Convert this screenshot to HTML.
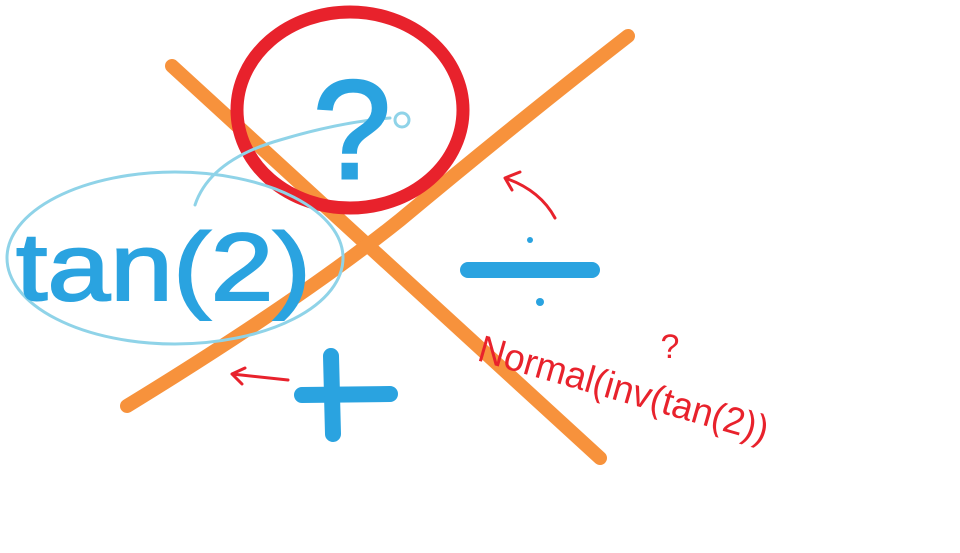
<!DOCTYPE html>
<html><head><meta charset="utf-8"><style>
html,body{margin:0;padding:0;background:#fff;width:960px;height:553px;overflow:hidden}
svg{display:block}
</style></head><body>
<svg width="960" height="553" viewBox="0 0 960 553">
  <g fill="none" stroke-linecap="round" stroke-linejoin="round">
    <path d="M172 66 L600 458" stroke="#f7923c" stroke-width="14"/>
    <path d="M127 406 Q300 300 400 220 Q520 120 628 36" stroke="#f7923c" stroke-width="14"/>
    <ellipse cx="350" cy="110" rx="113" ry="98" stroke="#e8222c" stroke-width="13"/>
    <ellipse cx="175" cy="258" rx="168" ry="86" stroke="#8fd3e8" stroke-width="3"/>
    <path d="M195 205 Q210 160 280 140 Q340 122 390 118" stroke="#8fd3e8" stroke-width="3"/>
    <circle cx="402" cy="120" r="7" stroke="#8fd3e8" stroke-width="3"/>
    <path d="M468 270 L592 270" stroke="#2aa3e0" stroke-width="16"/>
    <circle cx="530" cy="240" r="3" fill="#2aa3e0" stroke="none"/>
    <circle cx="540" cy="302" r="4" fill="#2aa3e0" stroke="none"/>
    <path d="M302 395 L390 394" stroke="#2aa3e0" stroke-width="16"/>
    <path d="M331 356 L333 434" stroke="#2aa3e0" stroke-width="16"/>
    <path d="M555 218 Q540 190 505 178 M505 178 L520 172 M505 178 L512 190" stroke="#e8222c" stroke-width="3"/>
    <path d="M288 380 L232 374 M232 374 L245 368 M232 374 L242 384" stroke="#e8222c" stroke-width="3"/>
  </g>
  <text x="352" y="178" text-anchor="middle" font-family="Liberation Sans, sans-serif" font-size="140" fill="#2aa3e0" stroke="#2aa3e0" stroke-width="3">?</text>
  <text x="16" y="300" font-family="Liberation Sans, sans-serif" font-size="96" fill="#2aa3e0" stroke="#2aa3e0" stroke-width="2" textLength="295" lengthAdjust="spacingAndGlyphs">tan(2)</text>
  <text x="670" y="358" text-anchor="middle" font-family="Liberation Sans, sans-serif" font-size="34" fill="#e8222c">?</text>
  <text x="476" y="360" transform="rotate(16 476 360)" font-family="Liberation Sans, sans-serif" font-size="38" fill="#e8222c" textLength="300" lengthAdjust="spacingAndGlyphs">Normal(inv(tan(2))</text>
</svg>
</body></html>
